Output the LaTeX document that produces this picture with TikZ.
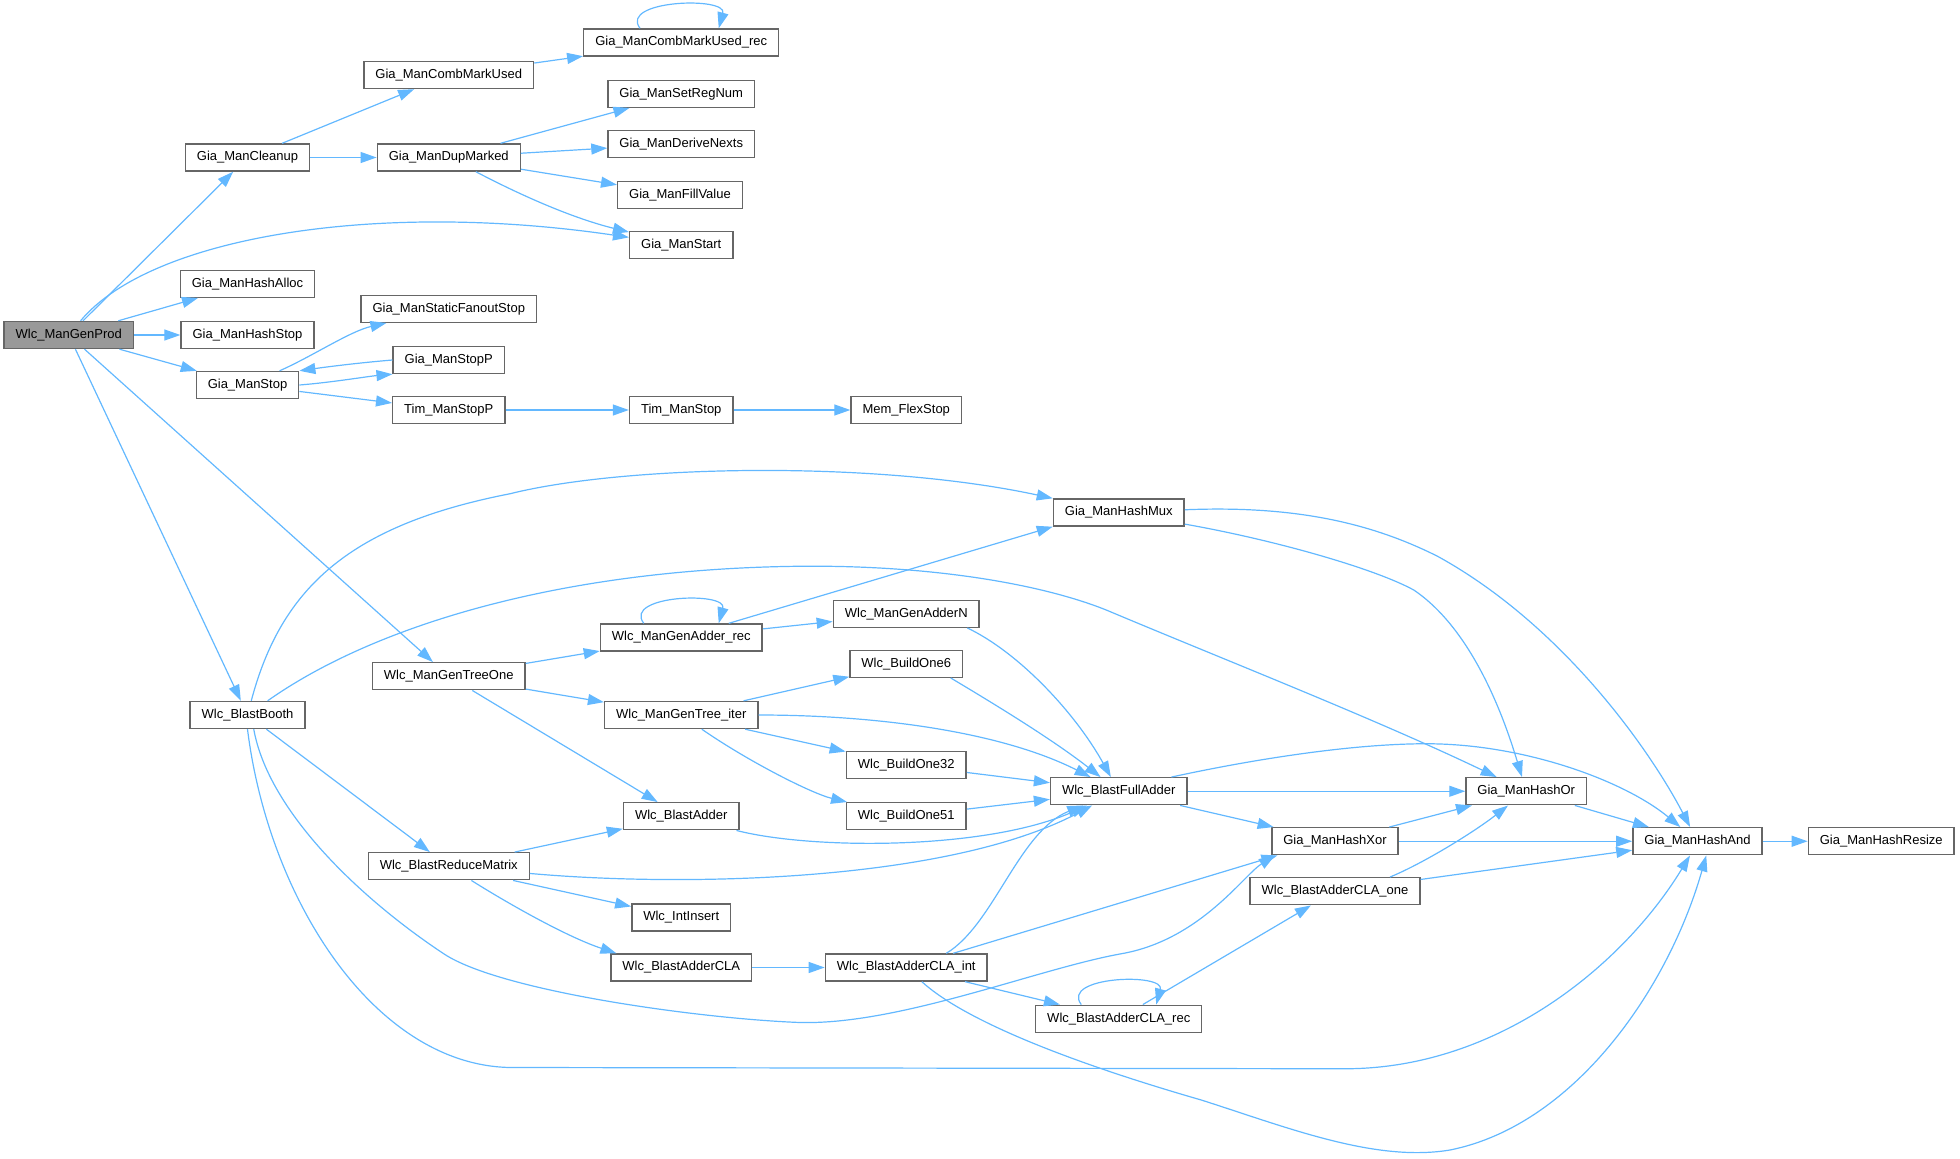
\documentclass[tikz,border=0pt]{standalone}
\usepackage{fontspec}
\setmainfont{Liberation Sans}
\usetikzlibrary{arrows.meta,calc}
\definecolor{edgec}{HTML}{63B8FF}
\definecolor{boxc}{HTML}{666666}
\definecolor{rootc}{HTML}{999999}
\begin{document}
\begin{tikzpicture}[x=1.25pt,y=-1.25pt,
  fn/.style={draw=boxc, line width=1.4pt, fill=white, minimum height=27pt, inner xsep=11.5pt, inner ysep=0pt, font=\fontsize{13pt}{15pt}\selectfont, text=black},
  root/.style={fn, fill=rootc},
  lnk/.style={draw=edgec, line width=1.2pt, -{Triangle[length=16pt,width=11pt]}},
]
\useasboundingbox (0,0) rectangle (1568,927);
% nodes
\node[root] (wgp) at (55,268) {Wlc\_ManGenProd};
\node[fn] (cleanup) at (198,126) {Gia\_ManCleanup};
\node[fn] (cmu) at (359,60) {Gia\_ManCombMarkUsed};
\node[fn] (cmurec) at (545,34) {Gia\_ManCombMarkUsed\_rec};
\node[fn] (dup) at (359,126) {Gia\_ManDupMarked};
\node[fn] (setreg) at (545,75) {Gia\_ManSetRegNum};
\node[fn] (derive) at (545,115) {Gia\_ManDeriveNexts};
\node[fn] (fillv) at (544,156) {Gia\_ManFillValue};
\node[fn] (start) at (545,196) {Gia\_ManStart};
\node[fn] (halloc) at (198,227) {Gia\_ManHashAlloc};
\node[fn] (hstop) at (198,268) {Gia\_ManHashStop};
\node[fn] (mstop) at (198,308) {Gia\_ManStop};
\node[fn] (sfs) at (359,247) {Gia\_ManStaticFanoutStop};
\node[fn] (stopp) at (359,288) {Gia\_ManStopP};
\node[fn] (tstopp) at (359,328) {Tim\_ManStopP};
\node[fn] (tstop) at (545,328) {Tim\_ManStop};
\node[fn] (mem) at (725,328) {Mem\_FlexStop};
\node[fn] (mux) at (895,410) {Gia\_ManHashMux};
\node[fn] (addrec) at (545,510) {Wlc\_ManGenAdder\_rec};
\node[fn] (addn) at (725,491) {Wlc\_ManGenAdderN};
\node[fn] (gto) at (359,541) {Wlc\_ManGenTreeOne};
\node[fn] (b6) at (725,531) {Wlc\_BuildOne6};
\node[fn] (booth) at (198,572) {Wlc\_BlastBooth};
\node[fn] (titer) at (545,572) {Wlc\_ManGenTree\_iter};
\node[fn] (b32) at (725,612) {Wlc\_BuildOne32};
\node[fn] (fa) at (895,633) {Wlc\_BlastFullAdder};
\node[fn] (hor) at (1221,633) {Gia\_ManHashOr};
\node[fn] (b51) at (725,653) {Wlc\_BuildOne51};
\node[fn] (badd) at (545,653) {Wlc\_BlastAdder};
\node[fn] (rm) at (359,693) {Wlc\_BlastReduceMatrix};
\node[fn] (xor) at (1068,673) {Gia\_ManHashXor};
\node[fn] (hand) at (1358,673) {Gia\_ManHashAnd};
\node[fn] (resize) at (1505,673) {Gia\_ManHashResize};
\node[fn] (ins) at (545,734) {Wlc\_IntInsert};
\node[fn] (claone) at (1068,713) {Wlc\_BlastAdderCLA\_one};
\node[fn] (cla) at (545,774) {Wlc\_BlastAdderCLA};
\node[fn] (claint) at (725,774) {Wlc\_BlastAdderCLA\_int};
\node[fn] (clarec) at (895,815) {Wlc\_BlastAdderCLA\_rec};
% edges
\draw[lnk] (wgp) -- (cleanup);
\draw[lnk] (wgp) .. controls (120,190) and (300,160) .. (start);
\draw[lnk] (wgp) -- (halloc);
\draw[lnk] (wgp) -- (hstop);
\draw[lnk] (wgp) -- (mstop);
\draw[lnk] (wgp) -- (gto);
\draw[lnk] (wgp) -- (booth);
\draw[lnk] (cleanup) -- (cmu);
\draw[lnk] (cleanup) -- (dup);
\draw[lnk] (cmu) -- (cmurec);
\draw[lnk] ($(cmurec.north)+(-33,0)$) .. controls (495,0) and (582,-3) .. ($(cmurec.north)+(30,0)$);
\draw[lnk] (dup) -- (setreg);
\draw[lnk] (dup) -- (derive);
\draw[lnk] (dup) -- (fillv);
\draw[lnk] (dup) .. controls (420,158) and (460,175) .. (start);
\draw[lnk] (mstop) .. controls (250,285) and (280,265) .. (sfs);
\draw[lnk] (stopp.west) .. controls (290,290) and (265,293) .. (mstop.north east);
\draw[lnk] (mstop.east) .. controls (265,306) and (295,301) .. (stopp.south west);
\draw[lnk] (mstop) -- (tstopp);
\draw[lnk] (tstopp) -- (tstop);
\draw[lnk] (tstop) -- (mem);
\draw[lnk] (booth) .. controls (225,470) and (280,420) .. (408,395) .. controls (500,372) and (700,368) .. (mux);
\draw[lnk] (booth) .. controls (300,500) and (450,455) .. (640,453) .. controls (740,452) and (830,466) .. (885,488) .. controls (980,528) and (1100,575) .. (hor);
\draw[lnk] ($(booth.south)+(5,0)$) .. controls (215,650) and (290,720) .. (355,763) .. controls (400,793) and (560,815) .. (640,818) .. controls (720,820) and (830,775) .. (897,763) .. controls (960,752) and (995,700) .. ($(xor.south west)+(3,0)$);
\draw[lnk] (booth.south) .. controls (215,720) and (300,852) .. (408,854) -- (1076,855) .. controls (1200,855) and (1300,770) .. ($(hand.south)+(-6,0)$);
\draw[lnk] (booth) -- (rm);
\draw[lnk] (gto) -- (addrec);
\draw[lnk] (gto) -- (titer);
\draw[lnk] (gto) -- (badd);
\draw[lnk] ($(addrec.north)+(-30,0)$) .. controls (498,476) and (582,473) .. ($(addrec.north)+(30,0)$);
\draw[lnk] (addrec) -- (mux.south west);
\draw[lnk] (addrec) -- (addn);
\draw[lnk] ($(addn.south east)+(-10,0)$) .. controls (815,522) and (860,570) .. (fa);
\draw[lnk] ($(b6.south east)+(-10,0)$) .. controls (790,560) and (840,590) .. (fa);
\draw[lnk] (titer) -- (b6);
\draw[lnk] (titer.east) .. controls (700,572) and (800,585) .. (fa);
\draw[lnk] (titer) -- (b32);
\draw[lnk] (titer) .. controls (600,610) and (650,635) .. (b51);
\draw[lnk] (b32) -- (fa);
\draw[lnk] (b51) -- (fa);
\draw[lnk] (badd) .. controls (650,680) and (790,680) .. (fa);
\draw[lnk] (rm) -- (badd);
\draw[lnk] (rm) .. controls (550,710) and (760,705) .. (fa);
\draw[lnk] (rm) -- (ins);
\draw[lnk] (rm) .. controls (410,725) and (455,750) .. ($(cla.north west)+(5,0)$);
\draw[lnk] (cla) -- (claint);
\draw[lnk] ($(claint.north)+(32,0)$) .. controls (795,740) and (815,665) .. (fa);
\draw[lnk] (claint) -- ($(xor.south west)+(5,0)$);
\draw[lnk] (claint) -- (clarec);
\draw[lnk] (claint) .. controls (770,815) and (850,848) .. (961,880) .. controls (1030,902) and (1100,930) .. (1160,920) .. controls (1260,900) and (1335,790) .. ($(hand.south)+(7,0)$);
\draw[lnk] ($(clarec.north)+(-30,0)$) .. controls (848,781) and (932,778) .. ($(clarec.north)+(30,0)$);
\draw[lnk] (clarec) -- (claone);
\draw[lnk] ($(claone.north)+(44,0)$) .. controls (1140,690) and (1180,665) .. (hor);
\draw[lnk] (claone) -- (hand);
\draw[lnk] (fa) -- (hor);
\draw[lnk] ($(fa.north east)+(-13,0)$) .. controls (1000,608) and (1080,595) .. (1141,595) .. controls (1220,595) and (1300,625) .. (hand);
\draw[lnk] (fa) -- (xor);
\draw[lnk] (xor) -- (hor);
\draw[lnk] (xor) -- (hand);
\draw[lnk] (hor) -- (hand);
\draw[lnk] (hand) -- (resize);
\draw[lnk] (mux) .. controls (1020,432) and (1100,455) .. (1131,472) .. controls (1180,505) and (1205,580) .. (hor);
\draw[lnk] (mux) .. controls (1040,404) and (1100,420) .. (1150,445) .. controls (1250,500) and (1320,600) .. (hand);
\end{tikzpicture}
\end{document}
